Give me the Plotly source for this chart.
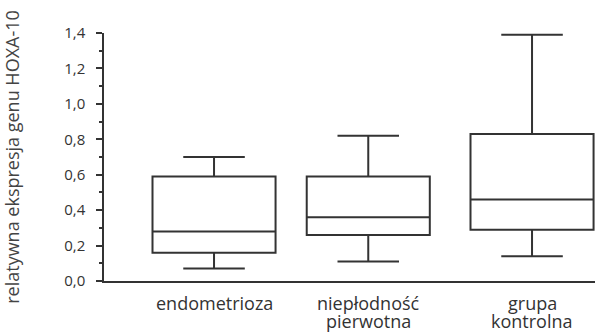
import plotly.graph_objects as go

# Group labels and box-plot statistics (relative HOXA-10 expression)
groups = ["endometrioza", "niepłodność\npierwotna", "grupa\nkontrolna"]
lower_whisker = [0.07, 0.11, 0.14]
q1 = [0.16, 0.26, 0.29]
median = [0.28, 0.36, 0.46]
q3 = [0.59, 0.59, 0.83]
upper_whisker = [0.70, 0.82, 1.39]

y_ticks = [0.0, 0.2, 0.4, 0.6, 0.8, 1.0, 1.2, 1.4]

# horizontal placement of the three boxes on a numeric axis
x_pos = [0, 0.97, 2]

line_col = "#333333"
text_col = "#333333"
label_font = dict(family="Open Sans", size=18, color=text_col)

fig = go.Figure(
    go.Box(
        x=x_pos,
        q1=q1,
        median=median,
        q3=q3,
        lowerfence=lower_whisker,
        upperfence=upper_whisker,
        width=0.774,
        whiskerwidth=0.5,
        fillcolor="rgba(255,255,255,0)",
        line=dict(color=line_col, width=2),
        boxpoints=False,
        hoverinfo="skip",
        showlegend=False,
    )
)

# category labels under the axis, one line per annotation for tight line spacing
for xp, name in zip(x_pos, groups):
    for i, part in enumerate(name.split("\n")):
        fig.add_annotation(
            x=xp, y=0, xref="x", yref="paper",
            text=part, showarrow=False,
            xanchor="center", yanchor="top",
            yshift=-9 - 18 * i,
            borderpad=0,
            font=label_font,
        )

fig.update_layout(
    width=595,
    height=332,
    margin=dict(l=104, r=0, t=33, b=51),
    paper_bgcolor="white",
    plot_bgcolor="white",
    separators=", ",
    font=dict(family="Open Sans", color=text_col, size=14),
    xaxis=dict(
        range=[-0.692, 2.396],
        showticklabels=False,
        ticks="",
        showgrid=False,
        zeroline=False,
        showline=True,
        linecolor=line_col,
        linewidth=1.5,
    ),
    yaxis=dict(
        range=[0, 1.4],
        tickvals=y_ticks,
        tickformat=".1f",
        ticks="outside",
        ticklen=6,
        tickwidth=1.5,
        tickcolor=line_col,
        ticklabelstandoff=8,
        minor=dict(dtick=0.1, ticks="outside", ticklen=3, tickwidth=1.5, tickcolor=line_col),
        showgrid=False,
        zeroline=False,
        showline=True,
        linecolor=line_col,
        linewidth=1.5,
        tickfont=dict(size=15, color=text_col),
        title=dict(
            text="relatywna ekspresja genu HOXA-10",
            font=dict(size=18, color="#444444"),
            standoff=40,
        ),
    ),
)

fig.write_html("out.html")
